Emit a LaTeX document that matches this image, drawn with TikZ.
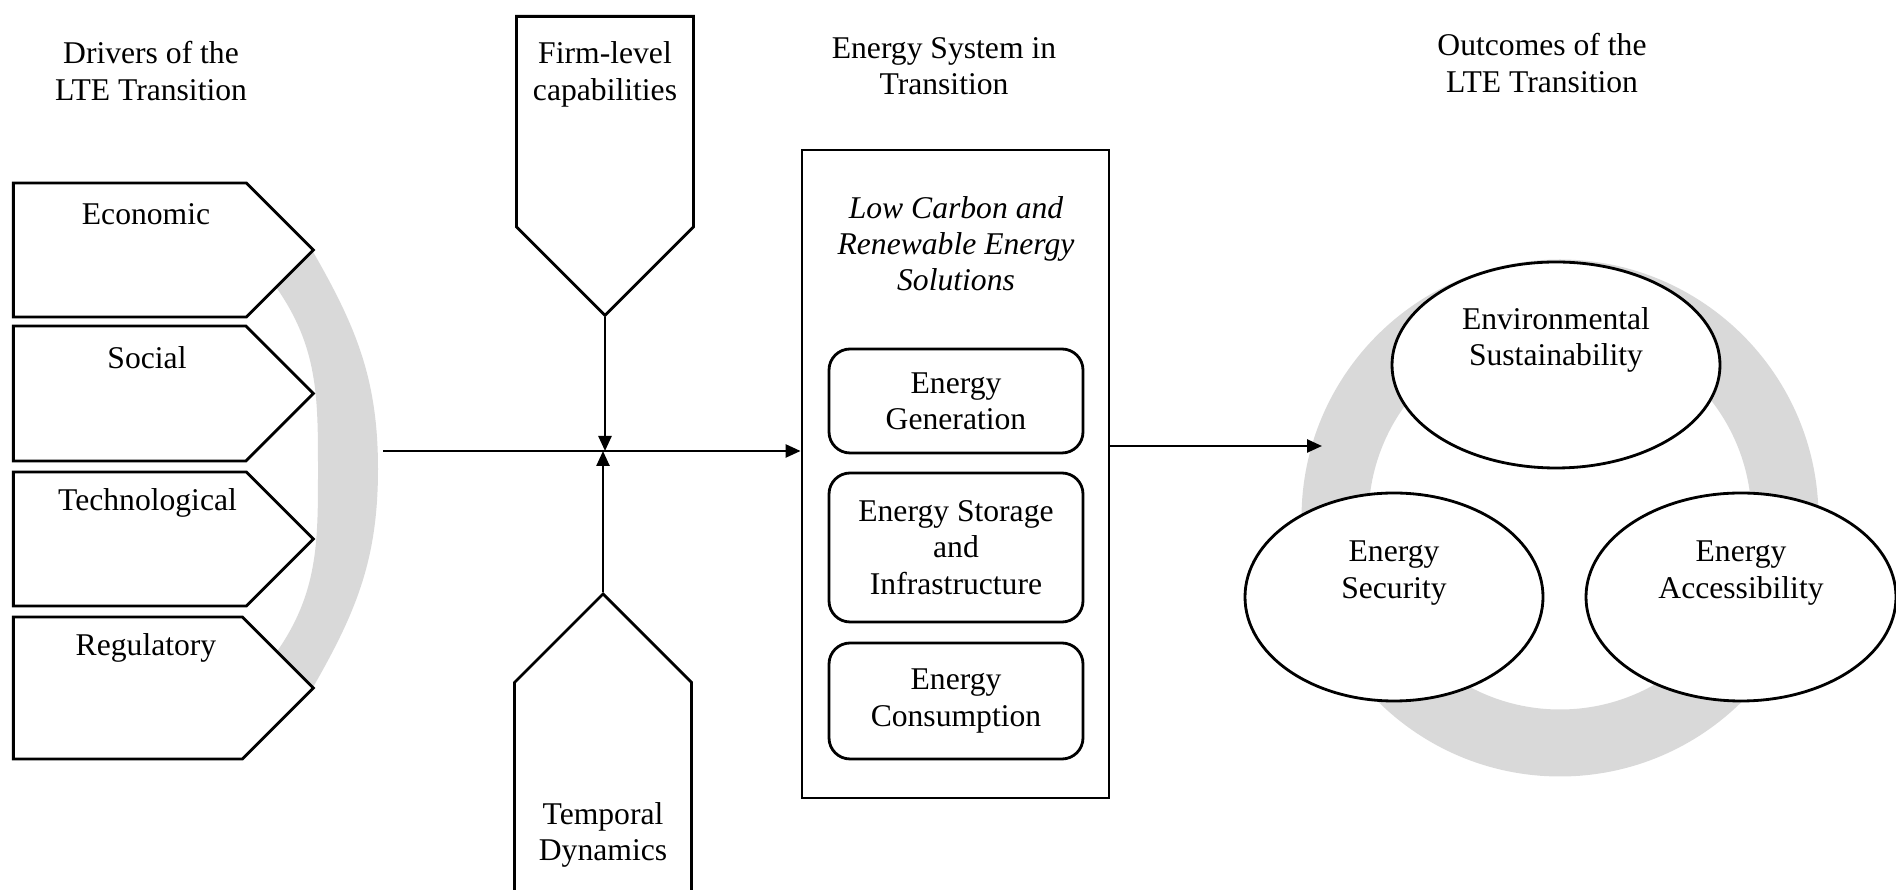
\documentclass[tikz,border=0pt]{standalone}
\usepackage{fontspec}
\setmainfont{Liberation Serif}
\usetikzlibrary{arrows.meta, positioning, shapes.geometric, shapes.symbols, calc}
\definecolor{cband}{HTML}{D9D9D9}
\tikzset{
  every picture/.style={line width=0.8pt},
  every node/.style={font=\fontsize{9}{10.3}\selectfont},
  title/.style={align=center, inner sep=0pt},
  lbl/.style={align=center, inner sep=0pt},
  drv/.style={signal, signal to=east, draw, fill=white, minimum width=3cm, minimum height=#1, inner sep=0pt},
  ext/.style={signal, signal to=#1, draw, fill=white, minimum width=1.77cm, inner sep=0pt},
  sub/.style={draw, rounded corners=6pt, minimum width=2.54cm, align=center, inner sep=0pt},
  oval/.style={ellipse, draw, fill=white, inner sep=0pt},
  arrow/.style={-{Triangle[length=1.5mm, width=1.3mm]}, line width=0.7pt},
}
\begin{document}
\begin{tikzpicture}
  \useasboundingbox (0,0) rectangle (18.96,-8.9);
  \clip (0,0) rectangle (18.96,-8.9);
  \node[title] (tdrv) at (1.51,-0.71) {Drivers of the\\LTE Transition};
  \node[title] (tsys) at (9.44,-0.665) {Energy System in\\Transition};
  \node[title] (tout) at (15.42,-0.63) {Outcomes of the\\LTE Transition};

  \fill[cband] (3.12,-2.50) to[out=-60, in=90] (3.78,-4.69) to[out=-90, in=60] (3.12,-6.89)
    -- (2.76,-6.53) to[out=55, in=-90] (3.18,-4.69) to[out=90, in=-55] (2.76,-2.87) -- cycle;
  \node[drv=1.34cm, anchor=west] (econ) at (0.12,-2.50) {};
  \node[drv=1.35cm, anchor=west] (soc) at (0.12,-3.935) {};
  \node[drv=1.34cm, anchor=west] (tech) at (0.12,-5.39) {};
  \node[drv=1.42cm, anchor=west] (reg) at (0.12,-6.88) {};
  \node[lbl] (leco) at (1.46,-2.14) {Economic};
  \node[lbl] (lsoc) at (1.47,-3.58) {Social};
  \node[lbl] (ltech) at (1.475,-5.03) {Technological};
  \node[lbl] (lreg) at (1.46,-6.48) {Regulatory};

  \node[ext=south, minimum height=2.105cm, anchor=north] (firm) at (6.05,-0.15) {};
  \node[ext=north, minimum height=3.3cm, anchor=north] (temp) at (6.03,-5.92) {};
  \node[lbl] (lfirm) at (6.05,-0.745) {Firm-level\\capabilities};
  \node[lbl] (ltemp) at (6.03,-8.35) {Temporal\\Dynamics};

  \node[draw, minimum width=3.07cm, minimum height=6.48cm] (sys) at (9.555,-4.74) {};
  \node[lbl, font=\fontsize{9}{10.3}\selectfont\itshape] (lsys) at (9.56,-2.44) {Low Carbon and\\Renewable Energy\\Solutions};
  \node[sub, minimum height=1.04cm] (gen) at (9.56,-4.01) {Energy\\Generation};
  \node[sub, minimum height=1.49cm] (stor) at (9.56,-5.475) {Energy Storage\\and\\Infrastructure};
  \node[sub, minimum height=1.16cm] (cons) at (9.56,-7.01) {Energy\\Consumption};

  \coordinate (hub) at (3.83,-4.51);
  \draw[arrow] (hub) -- (hub -| sys.west);
  \draw[arrow] (firm.south) -- (firm.south |- hub);
  \draw[arrow] (temp.north) -- (temp.north |- hub);

  \draw[cband, line width=0.67cm] (15.60,-5.18) circle (2.25cm);
  \node[oval, minimum width=3.28cm, minimum height=2.06cm] (env) at (15.56,-3.65) {};
  \node[oval, minimum width=2.98cm, minimum height=2.08cm] (sec) at (13.94,-5.97) {};
  \node[oval, minimum width=3.10cm, minimum height=2.08cm] (acc) at (17.41,-5.97) {};
  \node[lbl] (lenv) at (15.56,-3.40) {Environmental\\Sustainability};
  \node[lbl] (lsec) at (13.94,-5.73) {Energy\\Security};
  \node[lbl] (lacc) at (17.41,-5.73) {Energy\\Accessibility};

  \coordinate (ring) at (13.22,-4.46);
  \draw[arrow] (sys.east |- ring) -- (ring);
\end{tikzpicture}
\end{document}
